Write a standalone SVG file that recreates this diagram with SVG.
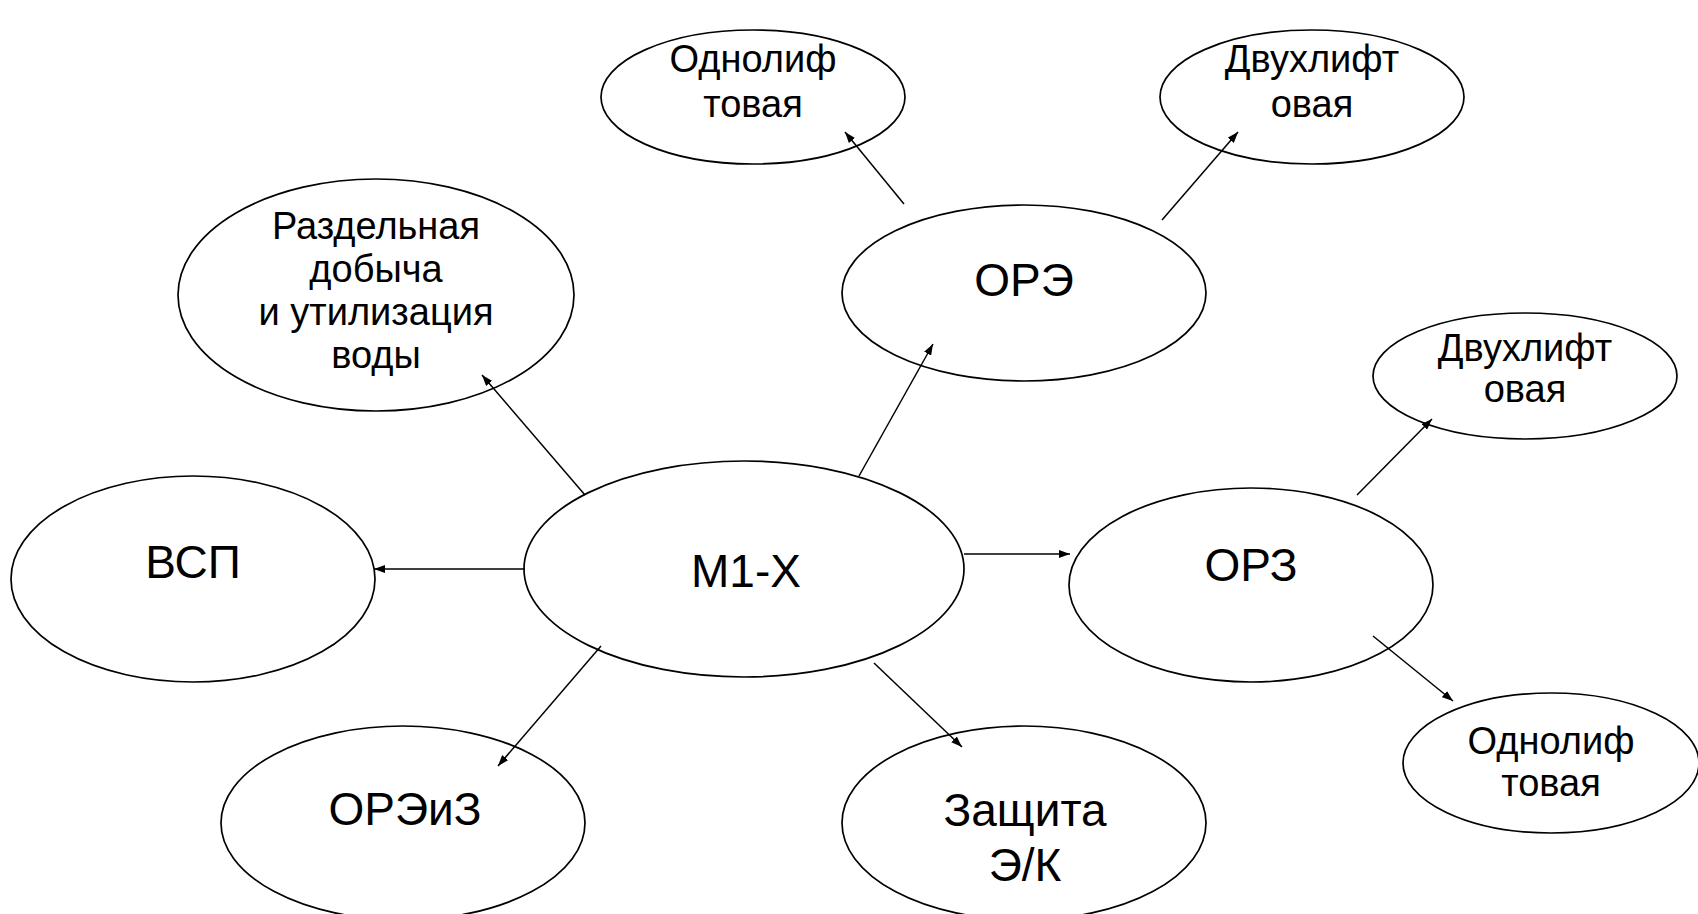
<svg xmlns="http://www.w3.org/2000/svg" width="1698" height="914" viewBox="0 0 1698 914">
<style>
.n ellipse{fill:#fff;stroke:#000;stroke-width:1.7}
.n text{font-family:"Liberation Sans",Arial,sans-serif;fill:#000;text-anchor:middle}
.s text{font-size:38px}
.b text{font-size:46px}
#edges line{stroke:#000;stroke-width:1.5;marker-end:url(#ah)}
</style>
<defs>
<marker id="ah" viewBox="0 0 11 8" refX="11" refY="4" markerWidth="11" markerHeight="8" markerUnits="userSpaceOnUse" orient="auto">
<path d="M0,0 L11,4 L0,8 Z" fill="#000"/>
</marker>
</defs>
<rect width="1698" height="914" fill="#fff"/>
<g id="n-odnolif-top" class="n s"><ellipse cx="753" cy="97" rx="152" ry="67"/><text x="753" y="72">Однолиф</text><text x="753" y="117">товая</text></g>
<g id="n-dvuhlift-top" class="n s"><ellipse cx="1312" cy="97" rx="152" ry="67"/><text x="1312" y="72">Двухлифт</text><text x="1312" y="117">овая</text></g>
<g id="n-razdel" class="n s"><ellipse cx="376" cy="295" rx="198" ry="116"/><text x="376" y="239">Раздельная</text><text x="376" y="282">добыча</text><text x="376" y="325">и утилизация</text><text x="376" y="368">воды</text></g>
<g id="n-ore" class="n b"><ellipse cx="1024" cy="293" rx="182" ry="88"/><text x="1024" y="296">ОРЭ</text></g>
<g id="n-dvuhlift-right" class="n s"><ellipse cx="1525" cy="376" rx="152" ry="63"/><text x="1525" y="361">Двухлифт</text><text x="1525" y="402">овая</text></g>
<g id="n-vsp" class="n b"><ellipse cx="193" cy="579" rx="182" ry="103"/><text x="193" y="578">ВСП</text></g>
<g id="n-m1x" class="n b"><ellipse cx="744" cy="569" rx="220" ry="108"/><text x="746" y="587">М1-Х</text></g>
<g id="n-orz" class="n b"><ellipse cx="1251" cy="585" rx="182" ry="97"/><text x="1251" y="581">ОРЗ</text></g>
<g id="n-odnolif-bottom" class="n s"><ellipse cx="1551" cy="763" rx="148" ry="70"/><text x="1551" y="754">Однолиф</text><text x="1551" y="796">товая</text></g>
<g id="n-oreiz" class="n b"><ellipse cx="403" cy="823" rx="182" ry="97"/><text x="405" y="825">ОРЭиЗ</text></g>
<g id="n-zashita" class="n b"><ellipse cx="1024" cy="823" rx="182" ry="97"/><text x="1025" y="826">Защита</text><text x="1025" y="881">Э/К</text></g>
<g id="edges">
<line x1="585" y1="495" x2="482" y2="375"/>
<line x1="859" y1="476" x2="933" y2="344"/>
<line x1="904" y1="204" x2="845" y2="132"/>
<line x1="1162" y1="220" x2="1238" y2="132"/>
<line x1="525" y1="569" x2="374" y2="569"/>
<line x1="964" y1="554" x2="1070" y2="554"/>
<line x1="1357" y1="495" x2="1432" y2="419"/>
<line x1="1373" y1="636" x2="1453" y2="701"/>
<line x1="601" y1="646" x2="498" y2="766"/>
<line x1="874" y1="663" x2="962" y2="747"/>
</g>
</svg>
